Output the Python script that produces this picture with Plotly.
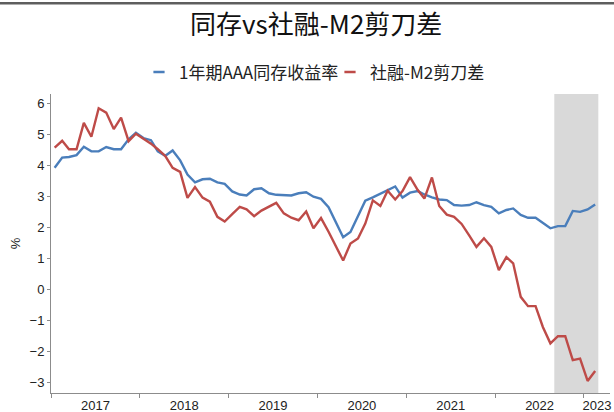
import pandas as pd
import plotly.graph_objects as go

# ---------------- data ----------------
months = pd.date_range("2017-01-01", "2023-02-01", freq="MS")

cd_yield = [3.92, 4.25, 4.27, 4.33, 4.60, 4.45, 4.45, 4.59, 4.52, 4.52, 4.84, 5.05,
            4.88, 4.81, 4.45, 4.31, 4.48, 4.16, 3.70, 3.45, 3.55, 3.57, 3.45, 3.40,
            3.16, 3.06, 3.03, 3.23, 3.26, 3.10, 3.05, 3.04, 3.03, 3.10, 3.13, 2.99,
            2.92, 2.65, 2.18, 1.68, 1.85, 2.34, 2.86, 2.97, 3.08, 3.21, 3.32, 2.96,
            3.12, 3.17, 3.06, 2.97, 2.90, 2.88, 2.72, 2.70, 2.72, 2.81, 2.72, 2.66,
            2.45, 2.56, 2.61, 2.40, 2.31, 2.31, 2.13, 1.97, 2.04, 2.04, 2.53, 2.50,
            2.58, 2.74]

tsf_m2_gap = [4.57, 4.79, 4.52, 4.52, 5.37, 4.92, 5.84, 5.70, 5.17, 5.54, 4.78, 5.02,
              4.86, 4.70, 4.52, 4.30, 3.92, 3.79, 2.95, 3.30, 2.96, 2.83, 2.34, 2.19,
              2.43, 2.66, 2.58, 2.36, 2.54, 2.66, 2.79, 2.45, 2.31, 2.23, 2.51, 1.97,
              2.30, 1.86, 1.40, 0.93, 1.48, 1.64, 2.12, 2.87, 2.69, 3.18, 2.90, 3.17,
              3.62, 3.21, 2.93, 3.61, 2.69, 2.41, 2.34, 2.11, 1.74, 1.37, 1.65, 1.37,
              0.62, 1.04, 0.84, -0.24, -0.54, -0.54, -1.21, -1.74, -1.51, -1.51, -2.28, -2.23,
              -2.95, -2.63]

series_names = ["1年期AAA同存收益率", "社融-M2剪刀差"]
years = [2017, 2018, 2019, 2020, 2021, 2022, 2023]
y_ticks = [-3, -2, -1, 0, 1, 2, 3, 4, 5, 6]
shade_start = "2022-09-01"
shade_end = "2023-03-01"
title_text = "同存vs社融-M2剪刀差"

# ---------------- style ----------------
BLUE = "#4A7EBB"
RED = "#BE4B48"
AXIS = "#8C8C8C"
CJK = "Noto Sans CJK SC"
LATIN = "Liberation Sans"

x_start = pd.Timestamp("2017-01-01")
x_end = pd.Timestamp("2023-04-18")

# points sit in the middle of each month slot
x_pts = months + pd.Timedelta(days=15)

# year labels centred on the visible part of each year
label_pos = []
for yv in years:
    a = max(pd.Timestamp(f"{yv}-01-01"), x_start)
    b = min(pd.Timestamp(f"{yv + 1}-01-01"), x_end)
    label_pos.append(a + (b - a) / 2)
year_bounds = [pd.Timestamp(f"{yv}-01-01") for yv in years]

fig = go.Figure()

fig.add_trace(go.Scatter(x=x_pts, y=cd_yield, mode="lines", name=series_names[0],
                         line=dict(color=BLUE, width=2.4), showlegend=False))
fig.add_trace(go.Scatter(x=x_pts, y=tsf_m2_gap, mode="lines", name=series_names[1],
                         line=dict(color=RED, width=2.4), showlegend=False))

# legend keys: short dashes like the original
key_widths = [146, None]
for nm, col, kw in zip(series_names, [BLUE, RED], key_widths):
    fig.add_trace(go.Scatter(x=[None], y=[None], mode="markers", name=nm,
                             legendwidth=kw,
                             marker=dict(symbol="line-ew", size=8,
                                         line=dict(width=2.6, color=col))))

# shaded period
fig.add_shape(type="rect", xref="x", yref="paper", x0=shade_start, x1=shade_end,
              y0=0, y1=1, fillcolor="#D9D9D9", line=dict(width=0), layer="below")

# thin dark rule at the very top of the picture
fig.add_shape(type="line", xref="paper", yref="paper", x0=-0.2, x1=1.2,
              y0=1.3037, y1=1.3037, line=dict(color="#5E5E5E", width=2.6))

fig.update_layout(
    width=614, height=412,
    margin=dict(l=51, r=4, t=94, b=19, autoexpand=False),
    paper_bgcolor="white", plot_bgcolor="white",
    title=dict(text=title_text, font=dict(family=CJK, size=26, color="#111"),
               x=0.515, xref="container", xanchor="center",
               y=1 - 24.5 / 412, yref="container", yanchor="middle"),
    legend=dict(orientation="h", x=139 / 614, xref="container", xanchor="left",
                y=1 - 72.5 / 412, yref="container", yanchor="middle",
                font=dict(family=CJK, size=17, color="#222"),
                itemwidth=30, tracegroupgap=0, bgcolor="rgba(0,0,0,0)"),
    font=dict(family=LATIN, size=13, color="#222"),
)

fig.update_xaxes(
    type="date", range=[x_start, x_end], automargin=False,
    tickmode="array", tickvals=label_pos, ticktext=[str(v) for v in years],
    ticks="outside", ticklen=0, tickcolor="rgba(0,0,0,0)",
    tickfont=dict(family=LATIN, size=13, color="#222"),
    showline=True, linecolor=AXIS, linewidth=1, showgrid=False, zeroline=False,
    minor=dict(tickmode="array", tickvals=year_bounds, ticks="outside",
               ticklen=4, tickcolor=AXIS, tickwidth=1, showgrid=False),
)

fig.update_yaxes(
    range=[-3.34, 6.30], tickmode="array", tickvals=y_ticks, automargin=False,
    ticks="outside", ticklen=3, tickcolor=AXIS,
    tickfont=dict(family=LATIN, size=13, color="#222"),
    showline=True, linecolor=AXIS, linewidth=1, showgrid=False, zeroline=False,
    title=dict(text="%", font=dict(family=LATIN, size=13, color="#222"), standoff=6),
)

fig.write_html("out.html",
               config={"displayModeBar": False},
               post_script="document.body.style.margin='0';"
                           "document.body.style.overflow='hidden';")
